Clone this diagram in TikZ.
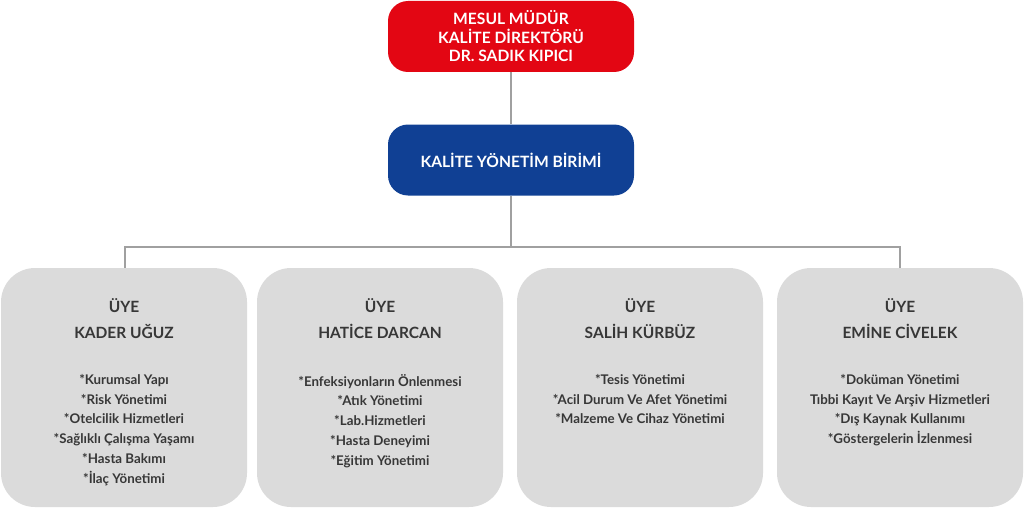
\documentclass[tikz,border=0pt]{standalone}
\usepackage{fontspec}
\setmainfont{Lato}
\definecolor{topred}{RGB}{227,6,19}
\definecolor{topblue}{RGB}{16,64,148}
\definecolor{boxgray}{RGB}{219,219,219}
\definecolor{txtgray}{RGB}{55,55,55}
\definecolor{linegray}{RGB}{160,160,160}
\begin{document}
\begin{tikzpicture}[x=1pt,y=-1pt,
  headbox/.style={rounded corners=20pt, minimum width=246pt, minimum height=71pt, inner sep=0pt, text=white, align=center, font=\fontsize{15.6}{18.5}\selectfont\bfseries},
  memberbox/.style={fill=boxgray, rounded corners=34pt, minimum width=246pt, minimum height=239pt, inner sep=0pt},
  membertitle/.style={text=txtgray, align=center, font=\fontsize{15.5}{26}\selectfont\bfseries, anchor=center},
  memberlist/.style={text=txtgray, align=center, font=\fontsize{13.3}{19.9}\selectfont\bfseries, anchor=north},
  conn/.style={draw=linegray, line width=2pt}]
\useasboundingbox (0,0) rectangle (1024,508);
\node[headbox, fill=topred] (director) at (511,36.5) {MESUL MÜDÜR\\KALİTE DİREKTÖRÜ\\DR. SADIK KIPICI};
\node[headbox, fill=topblue] (unit) at (511,160) {KALİTE YÖNETİM BİRİMİ};
\node[memberbox] (m1) at (124,387.5) {};
\node[memberbox] (m2) at (380,387.5) {};
\node[memberbox] (m3) at (640,387.5) {};
\node[memberbox] (m4) at (900,387.5) {};
\draw[conn] (director.south) -- (unit.north);
\coordinate (busL) at (125,246.5);
\coordinate (busR) at (900,246.5);
\draw[conn] (unit.south) -- (unit.south |- busL);
\draw[conn] (m1.north -| busL) -- (busL) -- (busR) -- (m4.north -| busR);
\node[membertitle] (t1) at (124,319) {ÜYE\\KADER UĞUZ};
\node[membertitle] (t2) at (380,319) {ÜYE\\HATİCE DARCAN};
\node[membertitle] (t3) at (640,319) {ÜYE\\SALİH KÜRBÜZ};
\node[membertitle] (t4) at (900,319) {ÜYE\\EMİNE CİVELEK};
\node[memberlist] (l1) at (124,370.5) {*Kurumsal Yapı\\*Risk Yönetimi\\*Otelcilik Hizmetleri\\*Sağlıklı Çalışma Yaşamı\\*Hasta Bakımı\\*İlaç Yönetimi};
\node[memberlist] (l2) at (380,370.5) {*Enfeksiyonların Önlenmesi\\*Atık Yönetimi\\*Lab.Hizmetleri\\*Hasta Deneyimi\\*Eğitim Yönetimi};
\node[memberlist] (l3) at (640,370.5) {*Tesis Yönetimi\\*Acil Durum Ve Afet Yönetimi\\*Malzeme Ve Cihaz Yönetimi};
\node[memberlist] (l4) at (900,370.5) {*Doküman Yönetimi\\Tıbbi Kayıt Ve Arşiv Hizmetleri\\*Dış Kaynak Kullanımı\\*Göstergelerin İzlenmesi};
\end{tikzpicture}
\end{document}
